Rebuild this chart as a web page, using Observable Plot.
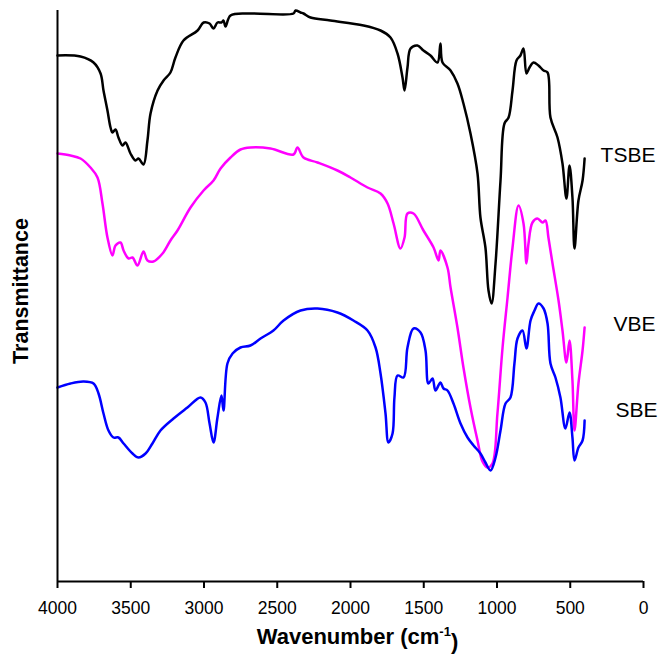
<!DOCTYPE html>
<html><head><meta charset="utf-8">
<script src="https://cdn.jsdelivr.net/npm/d3@7"></script>
<script src="https://cdn.jsdelivr.net/npm/@observablehq/plot@0.6"></script>
<style>body{margin:0;background:#fff}</style>
</head><body><div id="chart"></div>
<script>
const seriesNames = ["TSBE", "VBE", "SBE"];
const seriesColors = ["#000000", "#ff00ff", "#0000ff"];
const xTicks = [4000, 3500, 3000, 2500, 2000, 1500, 1000, 500, 0];
const xTitle = "Wavenumber (cm-1)";
const yTitle = "Transmittance";

const tsbeWave = [4000,3843,3754,3706,3686,3659,3638,3625,3604,3584,3556,3536,3502,3468,3447,3413,3386,3365,3317,3276,3229,3195,3140,3044,3003,2962,2935,2908,2881,2867,2853,2819,2683,2389,2375,2341,2321,2273,2137,1911,1795,1727,1679,1645,1631,1611,1590,1543,1502,1454,1406,1386,1372,1317,1270,1229,1181,1133,1113,1079,1058,1037,1010,976,949,921,894,867,840,819,799,778,751,717,682,655,635,587,553,526,505,485,471,444,416,402];
const tsbeT = [526,525,519,508,491,471,454,449,452,444,436,439,428,421,423,417,441,468,491,501,509,524,541,551,559,558,553,559,559,561,555,566,568,568,571,569,568,564,561,556,551,544,528,504,491,514,533,536,531,526,519,538,519,511,498,478,448,408,364,334,291,278,318,401,458,464,491,521,526,533,508,514,519,516,511,509,464,444,418,383,416,384,333,381,401,423];

const vbeWave = [4000,3911,3843,3775,3727,3693,3659,3625,3604,3570,3549,3515,3488,3454,3413,3386,3345,3283,3229,3181,3092,3003,2935,2887,2819,2751,2683,2546,2389,2362,2321,2225,2089,2000,1884,1795,1747,1706,1659,1631,1611,1570,1502,1433,1399,1386,1338,1317,1270,1229,1181,1133,1099,1065,1031,997,962,928,894,853,819,799,785,758,724,689,669,649,621,580,553,526,505,485,471,444,416,402];
const vbeT = [428,426,423,414,404,378,344,326,336,339,331,323,324,316,330,321,320,328,341,351,374,391,401,413,424,432,434,433,427,434,424,419,411,404,394,388,378,358,333,344,368,368,351,334,321,331,314,294,254,214,174,141,120,114,118,168,234,284,334,376,358,318,338,359,363,359,361,344,318,281,251,219,241,201,151,198,231,254];

const sbeWave = [4000,3911,3823,3754,3720,3686,3652,3618,3584,3549,3488,3447,3399,3352,3297,3208,3113,3024,2990,2962,2935,2908,2881,2867,2840,2805,2751,2683,2614,2526,2457,2341,2225,2089,1980,1884,1829,1795,1761,1741,1713,1700,1679,1638,1611,1570,1522,1488,1468,1440,1420,1386,1365,1338,1297,1249,1201,1160,1113,1079,1044,1010,976,942,908,881,860,826,799,771,744,717,682,655,635,601,567,533,505,485,471,444,416,402];
const sbeT = [194,198,200,198,188,168,151,144,144,138,128,124,128,138,151,163,174,184,179,158,139,164,186,171,218,228,234,236,243,251,261,271,273,269,261,251,234,208,168,139,148,184,206,204,234,253,249,231,198,203,191,199,193,191,178,158,144,136,128,119,111,124,151,178,184,218,243,251,233,261,271,278,273,258,218,204,184,153,169,144,121,134,141,161];

const seriesData = [[tsbeWave, tsbeT], [vbeWave, vbeT], [sbeWave, sbeT]];
const rows = seriesNames.flatMap((name, k) =>
  seriesData[k][0].map((w, i) => ({series: name, wave: w, t: seriesData[k][1][i]})));
const rowsOf = name => rows.filter(d => d.series === name);

const labelOpts = {x: "wave", y: "t", text: "series", textAnchor: "start", fontSize: 21, fill: "#000"};

const chart = Plot.plot({
  width: 661, height: 657,
  marginLeft: 57, marginRight: 18, marginTop: 10, marginBottom: 76,
  style: {fontFamily: "'Liberation Sans', Arial, sans-serif", fontSize: "17.5px", background: "#fff", color: "#000"},
  x: {domain: [4000, 0]},
  y: {domain: [0, 571], axis: null},
  color: {domain: seriesNames, range: seriesColors},
  marks: [
    Plot.line(rows, {x: "wave", y: "t", z: "series", stroke: "series", strokeWidth: 2.5, curve: "catmull-rom"}),
    Plot.ruleX([4000], {strokeWidth: 2}),
    Plot.ruleY([0], {strokeWidth: 2}),
    Plot.axisX({ticks: xTicks, tickSize: 7, tickPadding: 13, tickFormat: d => String(d), strokeWidth: 2, label: null, fontSize: 17.5}),
    Plot.text(rowsOf("TSBE"), Plot.selectLast({...labelOpts, dx: 16, dy: -3})),
    Plot.text(rowsOf("VBE"), Plot.selectLast({...labelOpts, dx: 29, dy: -3})),
    Plot.text(rowsOf("SBE"), Plot.selectLast({...labelOpts, dx: 31, dy: -10})),
    Plot.text([yTitle], {text: d => d, frameAnchor: "left", textAnchor: "middle", lineAnchor: "middle", dx: -36, dy: -5, rotate: -90, fontWeight: "bold", fontSize: 21.5}),
    Plot.text([xTitle], {text: d => d, frameAnchor: "bottom", textAnchor: "middle", lineAnchor: "middle", dx: 7, dy: 55, fontWeight: "bold", fontSize: 22})
  ]
});
document.getElementById("chart").appendChild(chart);

// superscript for cm-1
d3.select(chart).selectAll("text").filter(function() { return this.textContent === xTitle; })
  .each(function() {
    const t = d3.select(this);
    t.text("");
    t.append("tspan").text("Wavenumber (cm");
    t.append("tspan").attr("font-size", 13).attr("dy", "-0.6em").text("-1");
    t.append("tspan").attr("dy", "0.6em").text(")");
  });
</script>
</body></html>
